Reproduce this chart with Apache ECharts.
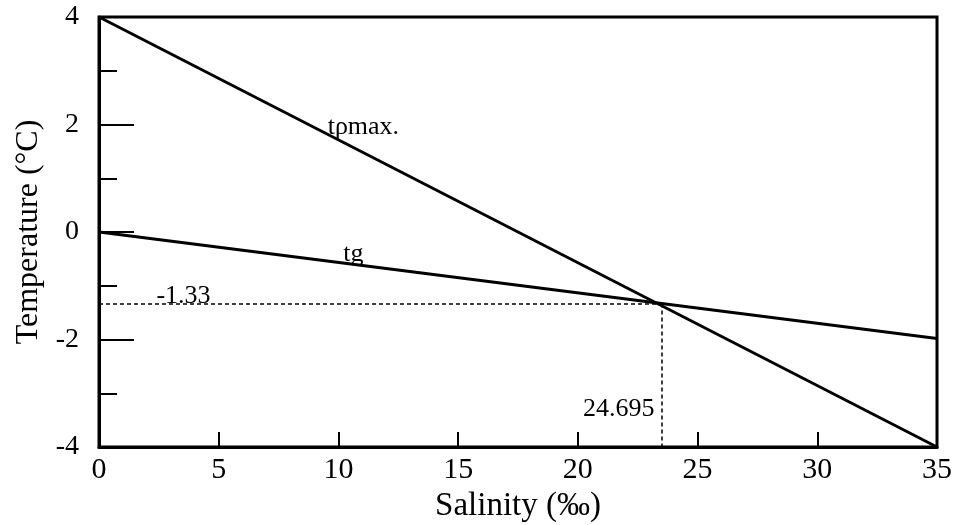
<!DOCTYPE html>
<html>
<head>
<meta charset="utf-8">
<script src="https://cdn.jsdelivr.net/npm/echarts@6/dist/echarts.min.js"></script>
<style>
  html, body { margin: 0; padding: 0; background: #fff; }
  #chart { width: 960px; height: 525px; }
</style>
</head>
<body>
<div id="chart"></div>
<script>
// data
var salinity = [0, 35];
var tMax = [4, -4];        // temperature of maximum density
var tFreeze = [0, -1.98];  // freezing point tg
var cross = [23.5, -1.33]; // where the two lines meet (as drawn)
var crossLabels = ['-1.33', '24.695'];
var xTicks = [0, 5, 10, 15, 20, 25, 30, 35];
var yTicks = [-4, -2, 0, 2, 4];

var font = 'Liberation Serif';

var chart = echarts.init(document.getElementById('chart'));

function pairs(xs, ys) {
  return xs.map(function (x, i) { return [x, ys[i]]; });
}

var option = {
  animation: false,
  grid: {
    left: 99, right: 23, top: 17, bottom: 78,
    outerBoundsMode: 'none',
    containLabel: false,
    show: true, borderColor: '#000', borderWidth: 3
  },
  xAxis: {
    type: 'value',
    min: xTicks[0], max: xTicks[xTicks.length - 1], interval: 5,
    name: 'Salinity (‰)',
    nameLocation: 'middle',
    nameGap: 40,
    nameTextStyle: { color: '#000', fontFamily: font, fontSize: 33 },
    axisLine: { onZero: false, lineStyle: { color: '#000', width: 3 } },
    axisTick: { inside: true, length: 15, lineStyle: { color: '#000', width: 2 } },
    axisLabel: { color: '#000', fontFamily: font, fontSize: 30, margin: 8 },
    splitLine: { show: false }
  },
  yAxis: {
    type: 'value',
    min: yTicks[0], max: yTicks[yTicks.length - 1], interval: 2,
    name: 'Temperature (°C)',
    nameLocation: 'middle',
    nameGap: 54,
    nameTextStyle: { color: '#000', fontFamily: font, fontSize: 32 },
    axisLine: { onZero: false, lineStyle: { color: '#000', width: 3 } },
    axisTick: { inside: true, length: 35, lineStyle: { color: '#000', width: 2 } },
    minorTick: { show: true, splitNumber: 2, length: 18, lineStyle: { color: '#000', width: 2 } },
    axisLabel: { color: '#000', fontFamily: font, fontSize: 28, margin: 20 },
    splitLine: { show: false }
  },
  series: [
    {
      name: 'tpmax',
      type: 'line',
      data: pairs(salinity, tMax),
      symbol: 'none',
      lineStyle: { color: '#000', width: 3 },
      markPoint: {
        symbol: 'circle', symbolSize: 0,
        label: { show: true, color: '#000', fontFamily: font, fontSize: 26, position: 'right', distance: 0 },
        data: [{ coord: [9.55, 1.95], value: 'tρmax.' }]
      }
    },
    {
      name: 'tg',
      type: 'line',
      data: pairs(salinity, tFreeze),
      symbol: 'none',
      lineStyle: { color: '#000', width: 3 },
      markPoint: {
        symbol: 'circle', symbolSize: 0,
        label: { show: true, color: '#000', fontFamily: font, fontSize: 26, position: 'right', distance: 0 },
        data: [{ coord: [10.2, -0.42], value: 'tg' }]
      },
      markLine: {
        silent: true,
        symbol: 'none',
        label: { show: false },
        lineStyle: { color: '#000', width: 1.5, type: [4, 3] },
        data: [
          [{ coord: [salinity[0], cross[1]] }, { coord: [cross[0], cross[1]] }],
          [{ coord: [cross[0], cross[1]] }, { coord: [cross[0], yTicks[0]] }]
        ]
      }
    },
    {
      name: 'notes',
      type: 'scatter',
      symbolSize: 0,
      silent: true,
      itemStyle: { opacity: 1 },
      data: [
        { value: [2.4, -1.2], label: { formatter: crossLabels[0], position: 'right' } },
        { value: [cross[0] - 0.3, -3.3], label: { formatter: crossLabels[1], position: 'left' } }
      ],
      label: { show: true, color: '#000', fontFamily: font, fontSize: 26, distance: 0 }
    }
  ]
};

chart.setOption(option);
</script>
</body>
</html>
